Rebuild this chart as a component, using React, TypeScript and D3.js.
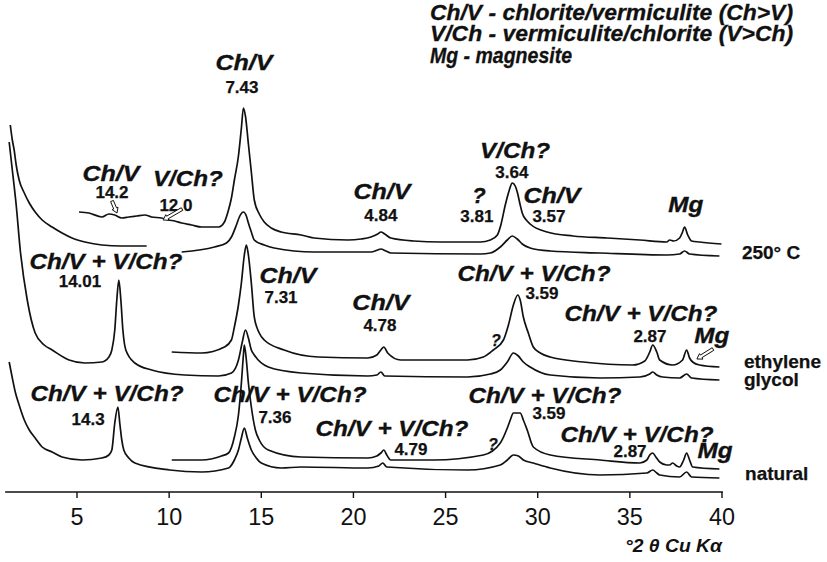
import React from "react";
import * as d3 from "d3";

type Pt = [number, number];

// °2θ tick values on the bottom axis
const TWO_THETA_TICKS = [5, 10, 15, 20, 25, 30, 35, 40];

// Diffraction traces: [°2θ, intensity above the trace's own baseline, a.u.]
const heated250Upper: Pt[] = [
  [5.11, 8], [5.65, 7.75], [6.35, 6.75], [6.73, 7.5], [7.05, 7.25], [7.43, 6.5], [7.81, 6.75],
  [8.24, 7], [8.68, 7.25], [9.05, 6.75], [9.59, 6.5], [9.97, 6], [10.3, 5.75], [10.68, 5.25],
  [11.22, 4.75], [11.76, 4.25], [12.3, 4.25], [12.68, 4.25], [13.0, 5.5], [13.22, 8.5],
  [13.38, 11.5], [13.54, 16], [13.76, 22], [13.92, 29], [14.03, 34], [14.14, 32], [14.3, 25],
  [14.46, 18], [14.62, 11], [14.89, 7.5], [15.16, 5.5], [15.54, 4], [16.08, 3], [17.16, 2.25],
  [17.86, 1.5], [19.7, 1], [20.41, 1.25], [20.95, 1.75], [21.32, 2.5], [21.49, 3], [21.7, 2.5],
  [22.03, 1.5], [23.27, 0.75], [24.73, 0.5], [26.89, 0.5], [27.43, 1], [27.81, 2.25],
  [28.0, 4.75], [28.24, 9.75], [28.46, 13.5], [28.62, 15.25], [28.78, 14.5], [28.89, 13],
  [29.05, 9.75], [29.16, 7.75], [29.38, 6], [29.59, 5], [30.51, 3], [31.92, 2], [33.76, 1.5],
  [35.54, 1], [37.0, 0.5], [37.16, 1], [37.38, 0.75], [37.7, 1.5], [37.86, 3], [37.97, 4.25],
  [38.14, 2.25], [38.35, 0.75], [38.78, 0.5], [39.97, 0],
];

const heated250Lower: Pt[] = [
  [1.38, 33.75], [1.49, 30], [1.59, 27.5], [1.7, 23.75], [1.86, 20], [2.14, 16.75], [2.41, 14.25],
  [2.73, 12], [3.11, 10], [3.65, 8.25], [4.19, 6.75], [4.73, 5.5], [5.43, 4.5], [6.35, 3.75],
  [7.43, 3.5], [8.78, 3.5], [9.5, NaN],
  [10.68, 2], [12.46, 3.25], [13.11, 4.25], [13.38, 5.75], [13.65, 8.75], [13.81, 10.75],
  [14.03, 12], [14.19, 11], [14.3, 9.25], [14.46, 7], [14.62, 5], [15.16, 3.75], [15.7, 3],
  [17.86, 2], [20.95, 2], [21.32, 2.5], [21.49, 2.75], [21.76, 2.25], [22.03, 1.75],
  [26.89, 1.5], [27.43, 1.75], [27.97, 3.25], [28.35, 5], [28.62, 6], [28.89, 5.25],
  [29.16, 4], [29.59, 3], [30.68, 2.25], [33.38, 1.75], [37.0, 1.25], [37.7, 1.5],
  [37.97, 2.25], [38.24, 1.5], [39.86, 1],
];

const glycolUpper: Pt[] = [
  [10.14, 5], [11.76, 4.75], [13.0, 6.25], [13.38, 8], [13.54, 11.25], [13.76, 16.75],
  [13.92, 22.25], [14.08, 29.25], [14.19, 31.75], [14.3, 29.25], [14.46, 22.25], [14.62, 13.75],
  [14.89, 9.75], [15.16, 8], [16.24, 5.5], [18.08, 3.75], [20.78, 3.5], [21.27, 4.25],
  [21.49, 5.5], [21.65, 6.25], [21.86, 4.75], [22.57, 3], [26.19, 3], [27.05, 3.75],
  [27.59, 5.5], [28.14, 8], [28.41, 11.75], [28.68, 16.75], [28.92, 19.25], [29.05, 18],
  [29.22, 13.75], [29.49, 9.75], [29.76, 6.25], [30.14, 4.75], [30.68, 3.75], [32.46, 2.5],
  [35.16, 1.75], [35.81, 2.75], [36.08, 5], [36.24, 6.75], [36.46, 5], [36.62, 3],
  [37.32, 1.75], [37.86, 3], [38.08, 5.5], [38.24, 3.5], [38.41, 2.5], [38.78, 1.75],
  [39.86, 1.25],
];

const glycolLower: Pt[] = [
  [1.32, 62.5], [1.49, 55.5], [1.7, 46.75], [1.92, 35.5], [2.3, 23], [2.73, 14.75], [3.22, 11.75],
  [3.65, 10.5], [4.57, 8], [5.43, 7.25], [6.35, 7.5], [6.73, 8.75], [6.89, 10.5], [7.05, 15.5],
  [7.16, 23], [7.27, 28], [7.38, 23], [7.49, 15.5], [7.65, 10.5], [8.14, 7.25], [9.05, 5.5],
  [10.84, 4.25], [12.68, 4], [13.38, 4.75], [13.76, 8], [13.97, 12.5], [14.14, 15.5],
  [14.3, 13.5], [14.46, 10.5], [14.62, 9.25], [15.38, 6.25], [17.16, 4.75], [20.78, 4],
  [21.27, 4.25], [21.49, 5], [21.7, 4], [26.19, 3.75], [27.43, 4.5], [27.97, 5.5],
  [28.35, 7.5], [28.68, 9.75], [28.95, 9], [29.22, 7.5], [29.59, 6.25], [30.68, 4.25],
  [33.38, 3.5], [35.54, 3.75], [36.08, 4.5], [36.24, 5], [36.46, 4.25], [36.78, 3.75],
  [37.7, 3.5], [38.08, 4.5], [38.35, 3.5], [39.86, 3],
];

const naturalUpper: Pt[] = [
  [10.14, 3], [11.76, 3], [12.84, 4], [13.22, 4.75], [13.54, 8.75], [13.76, 14.25],
  [13.92, 22.25], [14.03, 29.25], [14.08, 31.75], [14.19, 28], [14.3, 22.25], [14.46, 16.25],
  [14.68, 10.5], [14.89, 8], [15.38, 5.5], [17.16, 3.75], [20.78, 3.5], [21.27, 4],
  [21.49, 4.75], [21.65, 5.5], [21.81, 4.25], [22.03, 3], [24.35, 3], [27.05, 4.25],
  [27.97, 7.25], [28.35, 11], [28.51, 13], [28.68, 14.75], [29.05, 14.75], [29.22, 13],
  [29.43, 10.5], [29.76, 6.25], [30.68, 4.25], [33.38, 3], [35.54, 2.25], [35.92, 3],
  [36.08, 4.25], [36.24, 4.75], [36.41, 3.75], [36.62, 2.5], [37.0, 1.75], [37.16, 1.75],
  [37.32, 2.25], [37.54, 1.5], [37.7, 1.25], [37.92, 3], [38.08, 4.75], [38.24, 3],
  [38.41, 1.25], [39.86, 0.75],
];

const naturalLower: Pt[] = [
  [1.32, 32.5], [1.49, 28.5], [1.65, 25], [1.86, 21.75], [2.14, 18], [2.41, 15.5], [2.73, 13.5],
  [3.11, 11.25], [3.65, 10], [4.19, 8.75], [5.27, 8], [6.35, 8.5], [6.73, 9.25], [6.89, 10.5],
  [7.05, 17.25], [7.22, 21.25], [7.32, 17.25], [7.43, 13], [7.54, 10.5], [7.81, 8.5],
  [8.14, 7.25], [10.03, 5.5], [11.76, 5], [13.22, 6], [13.54, 8], [13.76, 10.5], [13.92, 13.5],
  [14.08, 16], [14.24, 13.5], [14.46, 10.5], [14.73, 8.5], [15.0, 7.25], [16.08, 6],
  [17.16, 6.25], [20.78, 6], [21.38, 6.5], [21.59, 7.25], [21.81, 6.25], [26.19, 5.5],
  [27.97, 6.75], [28.35, 8], [28.68, 9.25], [28.95, 9], [29.22, 8], [29.76, 7.25],
  [30.68, 6], [33.38, 4.25], [35.92, 4.75], [36.24, 5.5], [36.46, 4.75], [36.62, 4.25],
  [37.7, 3.75], [38.08, 5], [38.35, 3.75], [39.86, 3.5],
];

// vertical stacking of the patterns (a.u.)
const TRACES: { points: Pt[]; offset: number }[] = [
  { points: heated250Upper, offset: 62 },
  { points: heated250Lower, offset: 58 },
  { points: glycolUpper, offset: 30 },
  { points: glycolLower, offset: 25 },
  { points: naturalUpper, offset: 5 },
  { points: naturalLower, offset: 0 },
];

// Peak annotations: [text, °2θ, a.u., kind]
type Kind = "phase" | "d" | "small";
const ANNOTATIONS: [string, number, number, Kind][] = [
  ["Ch/V", 14.06, 105.5, "phase"], ["7.43", 13.95, 99.75, "d"],
  ["Ch/V", 6.84, 77.75, "phase"], ["14.2", 6.9, 73.5, "d"],
  ["V/Ch?", 11.02, 76.5, "phase"], ["12.0", 10.37, 70.25, "d"],
  ["Ch/V", 21.55, 73.25, "phase"], ["4.84", 21.49, 67.75, "d"],
  ["?", 26.81, 72.25, "phase"], ["3.81", 26.7, 67.5, "d"],
  ["V/Ch?", 28.77, 83.5, "phase"], ["3.64", 28.6, 78.5, "d"],
  ["Ch/V", 30.77, 72.25, "phase"], ["3.57", 30.61, 67.5, "d"],
  ["Mg", 38.04, 70, "phase"],
  ["Ch/V + V/Ch?", 6.57, 55.75, "phase"], ["14.01", 5.16, 51.25, "d"],
  ["Ch/V", 16.45, 52.25, "phase"], ["7.31", 16.07, 47.25, "d"],
  ["Ch/V", 21.49, 45.5, "phase"], ["4.78", 21.44, 40.25, "d"],
  ["Ch/V + V/Ch?", 29.8, 52.75, "phase"], ["3.59", 30.23, 48.25, "d"],
  ["?", 27.73, 36.5, "small"],
  ["Ch/V + V/Ch?", 35.6, 42.75, "phase"], ["2.87", 36.09, 37.5, "d"],
  ["Mg", 39.45, 37.25, "phase"],
  ["Ch/V + V/Ch?", 6.63, 22.75, "phase"], ["14.3", 5.6, 16.75, "d"],
  ["Ch/V + V/Ch?", 16.56, 22.5, "phase"], ["7.36", 15.74, 17.25, "d"],
  ["Ch/V + V/Ch?", 22.09, 14, "phase"], ["4.79", 23.12, 9.25, "d"],
  ["?", 27.57, 10.5, "small"],
  ["Ch/V + V/Ch?", 30.39, 22.25, "phase"], ["3.59", 30.61, 18.25, "d"],
  ["Ch/V + V/Ch?", 35.39, 12.5, "phase"], ["2.87", 35.01, 8.75, "d"],
  ["Mg", 39.62, 8.5, "phase"],
];

// Treatment names at the right end of each pattern pair
const TREATMENTS: [string, number, number][] = [
  ["250° C", 41.08, 58.25],
  ["ethylene", 41.19, 31],
  ["glycol", 41.19, 26.5],
  ["natural", 41.25, 3],
];

// Pointer arrows: tail [°2θ, a.u.] -> tip [°2θ, a.u.]
const POINTERS: [number, number, number, number][] = [
  [6.9, 72.75, 7.17, 69.75],
  [10.7, 70.75, 9.67, 68],
  [39.51, 35.75, 38.64, 33.25],
];

const LEGEND_LINES = [
  "Ch/V - chlorite/vermiculite (Ch>V)",
  "V/Ch - vermiculite/chlorite (V>Ch)",
  "Mg - magnesite",
];

const W = 827;
const H = 562;
const FONT = "'Liberation Sans', Arial, Helvetica, sans-serif";

// label widths for the condensed heavy lettering
const PHASE_WIDTH: Record<string, number> = {
  "Ch/V": 57,
  "V/Ch?": 70,
  "Ch/V + V/Ch?": 153,
  Mg: 35,
};

function arrowPoints(x0: number, y0: number, x1: number, y1: number): string {
  const dx = x1 - x0, dy = y1 - y0;
  const L = Math.hypot(dx, dy);
  const ux = dx / L, uy = dy / L;
  const nx = -uy, ny = ux;
  const hw = 1.5, hh = 3.2, hl = 5;
  const bx = x1 - ux * hl, by = y1 - uy * hl;
  const p = [
    [x0 + nx * hw, y0 + ny * hw],
    [bx + nx * hw, by + ny * hw],
    [bx + nx * hh, by + ny * hh],
    [x1, y1],
    [bx - nx * hh, by - ny * hh],
    [bx - nx * hw, by - ny * hw],
    [x0 - nx * hw, y0 - ny * hw],
  ];
  return p.map((q) => q.map((v) => v.toFixed(1)).join(",")).join(" ");
}

export default function App() {
  const x = d3.scaleLinear().domain([5, 40]).range([77, 722]);
  const y = d3.scaleLinear().domain([0, 100]).range([492, 92]);
  const axisY = y(0);

  return (
    <svg
      width={W}
      height={H}
      viewBox={`0 0 ${W} ${H}`}
      style={{ position: "absolute", left: 0, top: 0, background: "#fff" }}
      fontFamily={FONT}
    >
      <rect width={W} height={H} fill="#fff" />

      {/* diffraction patterns */}
      {TRACES.map((tr, i) => {
        const line = d3
          .line<Pt>()
          .defined((d) => !Number.isNaN(d[1]))
          .x((d) => x(d[0]))
          .y((d) => y(d[1] + tr.offset))
          .curve(d3.curveMonotoneX);
        return (
          <path
            key={i}
            d={line(tr.points) || ""}
            fill="none"
            stroke="#111"
            strokeWidth={1.7}
            strokeLinejoin="round"
          />
        );
      })}

      {/* bottom axis */}
      <line x1={x(1.1)} x2={x(40.05)} y1={axisY} y2={axisY} stroke="#111" strokeWidth={1.6} />
      {TWO_THETA_TICKS.map((t) => (
        <g key={t}>
          <line x1={x(t)} x2={x(t)} y1={axisY} y2={axisY + 6} stroke="#111" strokeWidth={1.4} />
          <text
            x={x(t)}
            y={525}
            textAnchor="middle"
            fontSize={24}
            fill="#111"
            textLength={String(t).length * 13}
            lengthAdjust="spacingAndGlyphs"
          >
            {t}
          </text>
        </g>
      ))}
      <text
        x={722}
        y={552}
        textAnchor="end"
        fontSize={18}
        fontWeight="bold"
        fontStyle="italic"
        fill="#111"
        textLength={97}
        lengthAdjust="spacingAndGlyphs"
      >
        °2 θ Cu Kα
      </text>

      {/* peak labels */}
      {ANNOTATIONS.map(([t, gx, gy, kind], i) => {
        if (kind === "phase") {
          const w = PHASE_WIDTH[t];
          return (
            <text
              key={i}
              x={x(gx)}
              y={y(gy)}
              textAnchor="middle"
              fontSize={22}
              fontWeight="bold"
              fontStyle="italic"
              fill="#111"
              stroke="#111"
              strokeWidth={0.35}
              textLength={w}
              lengthAdjust={w ? "spacingAndGlyphs" : undefined}
            >
              {t}
            </text>
          );
        }
        return (
          <text
            key={i}
            x={x(gx)}
            y={y(gy)}
            textAnchor="middle"
            fontSize={kind === "small" ? 16 : 17}
            fontWeight="bold"
            fontStyle={kind === "small" ? "italic" : "normal"}
            fill="#111"
            stroke="#111"
            strokeWidth={0.25}
          >
            {t}
          </text>
        );
      })}

      {/* pointer arrows */}
      {POINTERS.map(([ax, ay, bx, by], i) => (
        <polygon
          key={i}
          points={arrowPoints(x(ax), y(ay), x(bx), y(by))}
          fill="#fff"
          stroke="#111"
          strokeWidth={1}
          strokeLinejoin="round"
        />
      ))}

      {/* treatment names */}
      {TREATMENTS.map(([t, gx, gy], i) => (
        <text
          key={i}
          x={x(gx)}
          y={y(gy)}
          fontSize={19}
          fontWeight="bold"
          fill="#111"
          stroke="#111"
          strokeWidth={0.25}
        >
          {t}
        </text>
      ))}

      {/* key to abbreviations */}
      {LEGEND_LINES.map((t, i) => (
        <text
          key={i}
          x={430}
          y={19.5 + i * 21.5}
          fontSize={22}
          fontWeight="bold"
          fontStyle="italic"
          fill="#111"
          stroke="#111"
          strokeWidth={0.3}
          textLength={i < 2 ? 363 : 142}
          lengthAdjust="spacingAndGlyphs"
        >
          {t}
        </text>
      ))}
    </svg>
  );
}
